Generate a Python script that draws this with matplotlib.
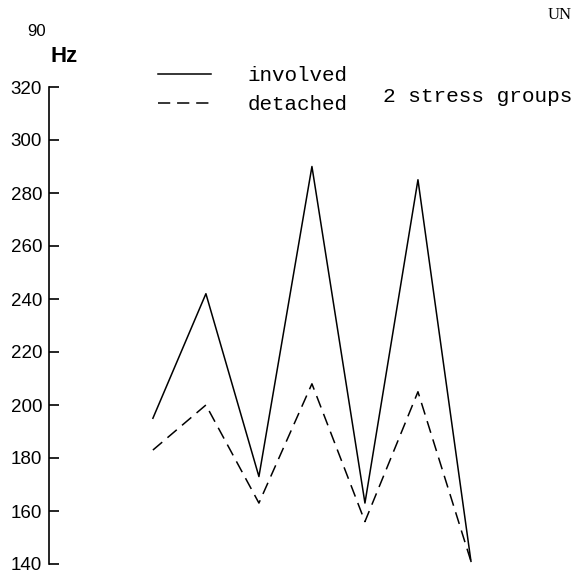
import matplotlib.pyplot as plt
from matplotlib.lines import Line2D

# mean F0 per syllable, two speaking styles
syllables = [1, 2, 3, 4, 5, 6, 7]
involved = [195, 242, 173, 290, 163, 285, 141]
detached = [183, 200, 163, 208, 156, 205, 141]
yticks = [140, 160, 180, 200, 220, 240, 260, 280, 300, 320]

fig = plt.figure(figsize=(5.86, 5.73), dpi=100)
ax = fig.add_axes([49 / 586, 1 - 564 / 573, 537 / 586, 477 / 573])

ax.plot(syllables, involved, color='black', linewidth=1.1)
ax.plot(syllables, detached, color='black', linewidth=1.1, linestyle=(0, (8, 4.5)))

ax.set_ylim(140, 320)
ax.set_xlim(-0.96, 9.17)
ax.set_yticks(yticks)
ax.tick_params(axis='y', direction='in', length=7, width=1.2, pad=5,
               labelsize=13.5)
for lab in ax.get_yticklabels():
    lab.set_family('Liberation Sans')
ax.set_xticks([])
for side in ['top', 'right', 'bottom']:
    ax.spines[side].set_visible(False)
ax.spines['left'].set_linewidth(1.2)

handles = [Line2D([], [], color='black', linewidth=1.1),
           Line2D([], [], color='black', linewidth=1.1, linestyle=(0, (8, 4.5)))]
fig.legend(handles, ['involved', 'detached'], loc='upper left',
           bbox_to_anchor=(158 / 586, 1 - 66 / 573), frameon=False,
           prop={'family': 'Liberation Mono', 'size': 15},
           handlelength=2.55, handletextpad=1.75, labelspacing=0.5,
           borderpad=0, borderaxespad=0)

fig.text(383 / 586, 1 - 96 / 573, '2 stress groups', family='Liberation Mono',
         fontsize=15.2, va='center', ha='left')
fig.text(27 / 586, 1 - 31 / 573, '90', family='Liberation Sans', fontsize=12,
         va='center', ha='left')
fig.text(50 / 586, 1 - 56 / 573, 'Hz', family='Liberation Sans', fontsize=16,
         fontweight='bold', va='center', ha='left')
fig.text(548 / 586, 1 - 15 / 573, 'UN', family='Liberation Serif', fontsize=12,
         va='center', ha='left')

fig.savefig('out.png', dpi=100)
